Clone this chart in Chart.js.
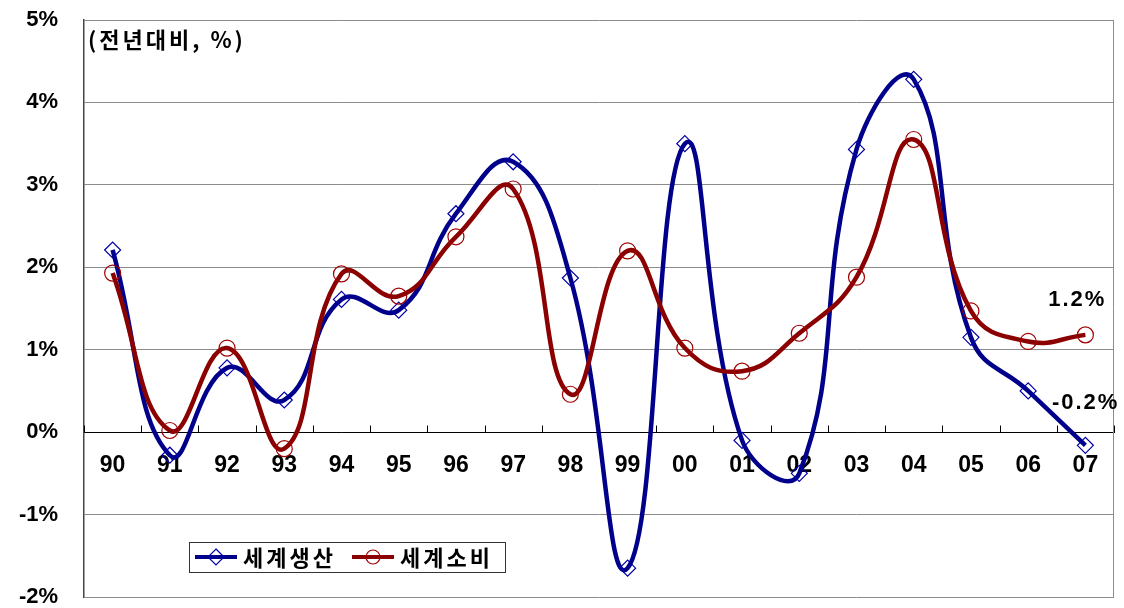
<!DOCTYPE html>
<html>
<head>
<meta charset="utf-8">
<script src="https://cdn.jsdelivr.net/npm/chart.js@4.4.1/dist/chart.umd.min.js"></script>
<style>
  html, body { margin: 0; padding: 0; background: #fff; }
  #wrap { width: 1124px; height: 608px; }
</style>
</head>
<body>
<div id="wrap"><canvas id="chart"></canvas></div>
<script>
const years = ['90', '91', '92', '93', '94', '95', '96', '97', '98', '99', '00', '01', '02', '03', '04', '05', '06', '07'];
const production = [2.21, -0.28, 0.78, 0.39, 1.61, 1.48, 2.65, 3.28, 1.87, -1.65, 3.50, -0.10, -0.50, 3.43, 4.28, 1.15, 0.50, -0.16];
const consumption = [1.93, 0.02, 1.02, -0.20, 1.92, 1.65, 2.37, 2.95, 0.46, 2.20, 1.02, 0.74, 1.20, 1.88, 3.55, 1.47, 1.10, 1.18];
const seriesNames = ['세계생산', '세계소비'];
const unitLabel = '(전년대비, %)';
const endLabels = ['1.2%', '-0.2%'];

const latin = '"Liberation Sans", Arial, sans-serif';
const korean = '"Noto Sans CJK KR", "Liberation Sans", sans-serif';
const blueLine = '#00008b';
const blueMark = '#0000a8';
const redLine = '#8b0000';
const redMark = '#a00000';

// 축 장식, 주석, 범례
const extras = {
  id: 'extras',
  afterDraw(chart) {
    const ctx = chart.ctx;
    const area = chart.chartArea;
    const x = chart.scales.x;
    const y = chart.scales.y;
    ctx.save();

    // 오른쪽 테두리
    ctx.strokeStyle = '#8c8c8c';
    ctx.lineWidth = 1;
    ctx.beginPath();
    ctx.moveTo(Math.round(area.right) - 0.5, area.top);
    ctx.lineTo(Math.round(area.right) - 0.5, area.bottom);
    ctx.stroke();

    // x축 눈금 (위쪽)
    const zeroY = Math.round(y.getPixelForValue(0)) + 0.5;
    const step = x.getPixelForValue(1) - x.getPixelForValue(0);
    ctx.strokeStyle = '#000';
    ctx.beginPath();
    for (let i = 0; i <= years.length; i++) {
      const px = Math.round(x.getPixelForValue(0) - step / 2 + i * step) + 0.5;
      ctx.moveTo(px, zeroY);
      ctx.lineTo(px, zeroY - 7);
    }
    ctx.stroke();

    // 주석
    ctx.fillStyle = '#000';
    ctx.textBaseline = 'middle';
    ctx.letterSpacing = '3px';
    ctx.font = 'bold 22px ' + korean;
    ctx.textAlign = 'left';
    ctx.fillText(unitLabel, area.left + 4, area.top + 20);
    ctx.letterSpacing = '2px';
    ctx.font = 'bold 22px ' + latin;
    ctx.textAlign = 'right';
    const lastX = x.getPixelForValue(years.length - 1);
    ctx.fillText(endLabels[0], lastX + 21, y.getPixelForValue(1.6));
    ctx.fillText(endLabels[1], lastX + 34, y.getPixelForValue(0.36));

    // 범례
    const lx = 189, ly = 542, lw = 316, lh = 30;
    ctx.fillStyle = '#fff';
    ctx.fillRect(lx, ly, lw, lh);
    ctx.strokeStyle = '#333';
    ctx.lineWidth = 1;
    ctx.strokeRect(lx + 0.5, ly + 0.5, lw, lh);
    const cy = ly + lh / 2;
    const items = [
      { x0: 195, line: blueLine, mark: blueMark, style: 'rectRot', text: seriesNames[0], tx: 243 },
      { x0: 352, line: redLine, mark: redMark, style: 'circle', text: seriesNames[1], tx: 400 }
    ];
    items.forEach(it => {
      ctx.strokeStyle = it.line;
      ctx.lineWidth = 4;
      ctx.beginPath();
      ctx.moveTo(it.x0, cy);
      ctx.lineTo(it.x0 + 42, cy);
      ctx.stroke();
      const mx = it.x0 + 21;
      ctx.fillStyle = '#fff';
      ctx.strokeStyle = it.mark;
      ctx.lineWidth = 1.2;
      ctx.beginPath();
      if (it.style === 'circle') {
        ctx.arc(mx, cy, 7, 0, Math.PI * 2);
      } else {
        ctx.moveTo(mx, cy - 8);
        ctx.lineTo(mx + 8, cy);
        ctx.lineTo(mx, cy + 8);
        ctx.lineTo(mx - 8, cy);
        ctx.closePath();
      }
      ctx.stroke();
      ctx.fillStyle = '#000';
      ctx.textAlign = 'left';
      ctx.letterSpacing = '3px';
      ctx.font = 'bold 22px ' + korean;
      ctx.fillText(it.text, it.tx, cy + 1);
    });
    ctx.restore();
  }
};

new Chart(document.getElementById('chart'), {
  type: 'line',
  data: {
    labels: years,
    datasets: [
      {
        label: seriesNames[0],
        data: production,
        order: 1,
        borderColor: blueLine,
        borderWidth: 4.5,
        tension: 0.45,
        pointStyle: 'rectRot',
        pointRadius: 8,
        pointBorderWidth: 1.2,
        pointBorderColor: blueMark,
        pointBackgroundColor: 'rgba(0,0,0,0)'
      },
      {
        label: seriesNames[1],
        data: consumption,
        order: 0,
        borderColor: redLine,
        borderWidth: 4.5,
        tension: 0.45,
        pointStyle: 'circle',
        pointRadius: 8,
        pointBorderWidth: 1.2,
        pointBorderColor: redMark,
        pointBackgroundColor: 'rgba(0,0,0,0)'
      }
    ]
  },
  options: {
    responsive: true,
    maintainAspectRatio: false,
    animation: false,
    devicePixelRatio: 1,
    layout: { padding: { top: 20, right: 10, bottom: 11, left: 0 } },
    plugins: {
      legend: { display: false },
      tooltip: { enabled: false }
    },
    scales: {
      x: {
        type: 'category',
        position: { y: 0 },
        offset: true,
        afterFit(scale) { scale.paddingLeft = 0; scale.paddingRight = 0; },
        grid: { display: true, drawOnChartArea: false, drawTicks: false },
        border: { display: true, color: '#000', width: 1 },
        ticks: {
          color: '#000',
          font: { family: latin, size: 23, weight: 'bold' },
          padding: 20,
          autoSkip: false,
          maxRotation: 0
        }
      },
      y: {
        min: -2,
        max: 5,
        afterFit(scale) { scale.width = 84; scale.paddingTop = 0; scale.paddingBottom = 0; },
        grid: { color: '#8c8c8c', lineWidth: 1, drawTicks: false },
        border: { color: '#444', width: 1.5 },
        ticks: {
          stepSize: 1,
          color: '#000',
          padding: 26,
          font: { family: latin, size: 22, weight: 'bold' },
          callback: v => v + '%'
        }
      }
    }
  },
  plugins: [extras]
});
</script>
</body>
</html>
